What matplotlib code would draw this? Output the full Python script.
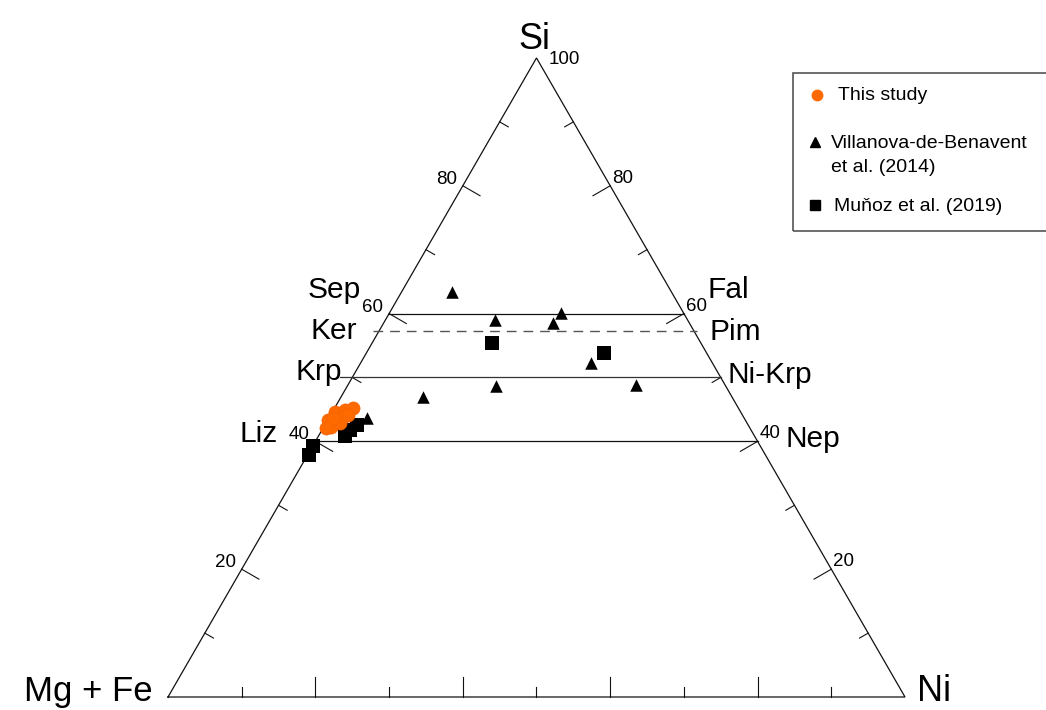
import numpy as np
import matplotlib
matplotlib.use('Agg')
import matplotlib.pyplot as plt
from matplotlib.patches import Rectangle
from matplotlib.lines import Line2D

plt.rcParams['font.family'] = ['Liberation Sans', 'DejaVu Sans']

# compositions, in % (Mg+Fe = 100 - Si - Ni)
study_si = [43.4, 44.6, 44.9, 45.2, 42.3, 42.9, 43.8, 42.1, 43.7, 44.1]
study_ni = [0.0, 0.4, 1.6, 2.5, 0.9, 1.9, 1.8, 0.4, 0.6, 2.4]

villanova_si = [63.4, 59.0, 60.1, 58.6, 52.3, 48.6, 48.9, 47.0, 43.7]
villanova_ni = [6.8, 14.9, 23.3, 23.0, 31.3, 20.2, 39.1, 11.1, 5.1]

munoz_si = [55.4, 53.8, 40.9, 41.8, 42.6, 39.3, 37.9]
munoz_ni = [16.2, 32.2, 3.5, 3.8, 4.4, 0.0, 0.2]

# mineral reference levels (Si %)
sep_si = 60.0
ker_si = 57.3
krp_si = 50.0
liz_si = 40.0

axis_ticks = [20, 40, 60, 80]

W, H = 1046, 710
SQ = np.sqrt(3) / 2


def tern(si, ni):
    si = np.asarray(si, dtype=float)
    ni = np.asarray(ni, dtype=float)
    return ni + si / 2, si * SQ


def fp(x, y):
    # figure pixel -> figure fraction
    return x / W, 1 - y / H


fig = plt.figure(figsize=(W / 100, H / 100), dpi=100)
ax = fig.add_axes([0, 0, 1, 1])
ax.set_xlim(-168 / 7.37, (W - 168) / 7.37)
ax.set_ylim(-(H - 697) / 7.379, 697 / 7.379)
ax.axis('off')

# outline
ax.plot([0, 100, 50, 0], [0, 0, 100 * SQ, 0], color='#111111', lw=0.9,
        solid_joinstyle='miter', zorder=2)

# ticks, perpendicular and pointing inwards
for v in range(10, 100, 10):
    ln = 2.7 if v % 20 == 0 else 1.35
    x0, y0 = tern(v, 0)
    ax.plot([x0, x0 + ln * SQ], [y0, y0 - ln * 0.5], color='#111111', lw=0.8)
    x0, y0 = tern(v, 100 - v)
    ax.plot([x0, x0 - ln * SQ], [y0, y0 - ln * 0.5], color='#111111', lw=0.8)
    ax.plot([v, v], [0, ln], color='#111111', lw=0.8)

# mineral lines
def hline(si, ext_l=0.0, ext_r=0.0, **kw):
    xl, y = tern(si, 0)
    xr, _ = tern(si, 100 - si)
    ax.plot([xl - ext_l, xr + ext_r], [y, y], **kw)

hline(sep_si, color='#111111', lw=0.9)
hline(ker_si, 0.8, 0.4, color='#555555', lw=1.0, dashes=(7, 5))
hline(krp_si, 1.7, 0, color='#333333', lw=0.9)
hline(liz_si, 0.5, 0, color='#111111', lw=0.9)

# data
x, y = tern(munoz_si, munoz_ni)
ax.scatter(x, y, marker='s', s=10 ** 2, color='black', lw=0, zorder=4)
x, y = tern(villanova_si, villanova_ni)
ax.scatter(x, y, marker='^', s=9 ** 2, color='black', lw=0, zorder=4)
x, y = tern(study_si, study_ni)
ax.scatter(x, y, marker='o', s=9.5 ** 2, color='#FF6A00', edgecolor='#F26000',
           lw=0.4, zorder=5)

# corner labels
fig.text(*fp(534, 49), 'Si', fontsize=26, ha='center', va='baseline')
fig.text(*fp(153, 701), 'Mg + Fe', fontsize=25, ha='right', va='baseline')
fig.text(*fp(917, 701), 'Ni', fontsize=26, ha='left', va='baseline')
fig.text(*fp(549, 60), '100', fontsize=13.5, ha='left', va='center')

# scale labels
for v in axis_ticks:
    x0, y0 = tern(v, 0)
    px, py = 168 + 7.37 * x0, 697 - 7.379 * y0
    fig.text(*fp(px - 6, py + 2), str(v), fontsize=13.5, ha='right', va='bottom')
    x0, y0 = tern(v, 100 - v)
    px, py = 168 + 7.37 * x0, 697 - 7.379 * y0
    fig.text(*fp(px + 2, py + 1), str(v), fontsize=13.5, ha='left', va='bottom')

# mineral names
for name, px, py, ha in [('Sep', 361, 298, 'right'), ('Ker', 357, 339, 'right'),
                         ('Krp', 342, 380, 'right'), ('Liz', 278, 442, 'right'),
                         ('Fal', 708, 298, 'left'), ('Pim', 710, 340, 'left'),
                         ('Ni-Krp', 728, 383, 'left'), ('Nep', 785, 447, 'left')]:
    fig.text(*fp(px, py), name, fontsize=21.5, ha=ha, va='baseline')

# legend box
fig.patches.append(Rectangle(fp(793, 231), (W + 5 - 793) / W, (231 - 73) / H,
                             transform=fig.transFigure, fill=False,
                             edgecolor='#555555', lw=1.2))
fig.lines.append(Line2D([817 / W], [1 - 95 / H], marker='o', ms=7.5, color='#FF6A00',
                        mec='#FF6A00', transform=fig.transFigure))
fig.lines.append(Line2D([815 / W], [1 - 142 / H], marker='^', ms=7.5, color='black',
                        transform=fig.transFigure))
fig.lines.append(Line2D([815 / W], [1 - 205 / H], marker='s', ms=6.5, color='black',
                        transform=fig.transFigure))
lkw = dict(fontsize=14, ha='left', va='center')
fig.text(*fp(838, 96), 'This study', **lkw)
fig.text(*fp(831, 143), 'Villanova-de-Benavent', **lkw)
fig.text(*fp(831, 167), 'et al. (2014)', **lkw)
fig.text(*fp(834, 206), 'Muňoz et al. (2019)', **lkw)

fig.savefig('out.png', dpi=100, facecolor='white')
